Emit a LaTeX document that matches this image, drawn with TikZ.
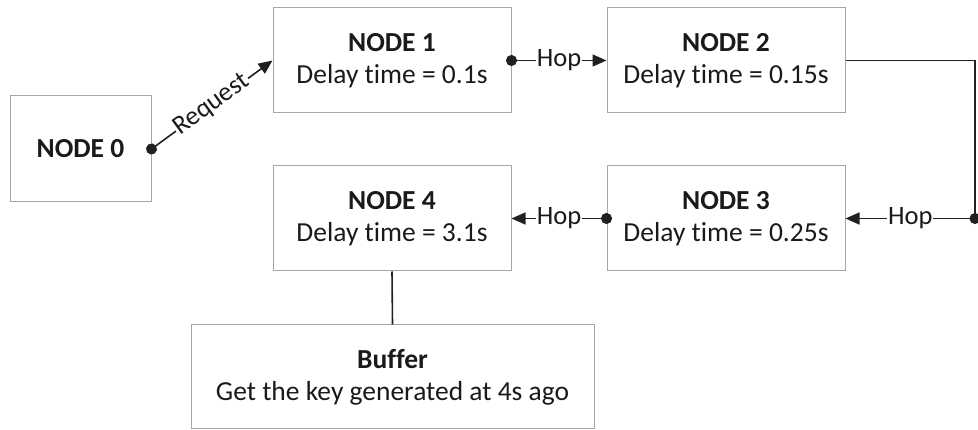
\documentclass[tikz,border=0pt]{standalone}
\usepackage{fontspec}
\setmainfont{Carlito}[Ligatures=NoCommon]
\usetikzlibrary{arrows.meta}
\definecolor{boxgray}{HTML}{A6A6A6}
\definecolor{linec}{HTML}{202020}
\definecolor{txt}{HTML}{1A1A1A}
\begin{document}
\begin{tikzpicture}[x=1pt,y=-1pt,
  box/.style={draw=boxgray, line width=1pt, fill=white, align=center, inner sep=0pt,
    font=\fontsize{27.5}{32}\selectfont, text=txt},
  conn/.style={line width=1.6pt, draw=linec,
    {Circle[length=11pt]}-{Triangle[length=14pt,width=12pt]}, shorten <=-5.5pt},
  plainconn/.style={line width=1.6pt, draw=linec},
  lbl/.style={fill=white, inner sep=1pt, font=\fontsize{26.5}{30}\selectfont, text=txt}]
\useasboundingbox (0,0) rectangle (978,430);
\node[box, minimum width=141pt, minimum height=106pt] (n0) at (80.5,149) {\textbf{NODE 0}};
\node[box, minimum width=238pt, minimum height=105pt] (n1) at (392,60.5) {\textbf{NODE 1}\\Delay time = 0.1s};
\node[box, minimum width=238pt, minimum height=105pt] (n2) at (726,60.5) {\textbf{NODE 2}\\Delay time = 0.15s};
\node[box, minimum width=238pt, minimum height=105pt] (n3) at (726,218.5) {\textbf{NODE 3}\\Delay time = 0.25s};
\node[box, minimum width=238pt, minimum height=105pt] (n4) at (392,218.5) {\textbf{NODE 4}\\Delay time = 3.1s};
\node[box, minimum width=403pt, minimum height=104pt] (buf) at (392.5,377) {\textbf{Buffer}\\Get the key generated at 4s ago};
\coordinate (c1) at (975,60.5);
\coordinate (c2) at (975,218.5);
\draw[conn] (n0.east) -- node[lbl, sloped] {Request} (n1.west);
\draw[conn] (n1.east) -- node[lbl] {Hop} (n2.west);
\draw[plainconn] (n2.east) -- (c1) -- (c2);
\draw[conn] (c2) -- node[lbl] {Hop} (n3.east);
\draw[conn] (n3.west) -- node[lbl] {Hop} (n4.east);
\draw[plainconn] (n4.south) -- (buf.north);
\end{tikzpicture}
\end{document}
